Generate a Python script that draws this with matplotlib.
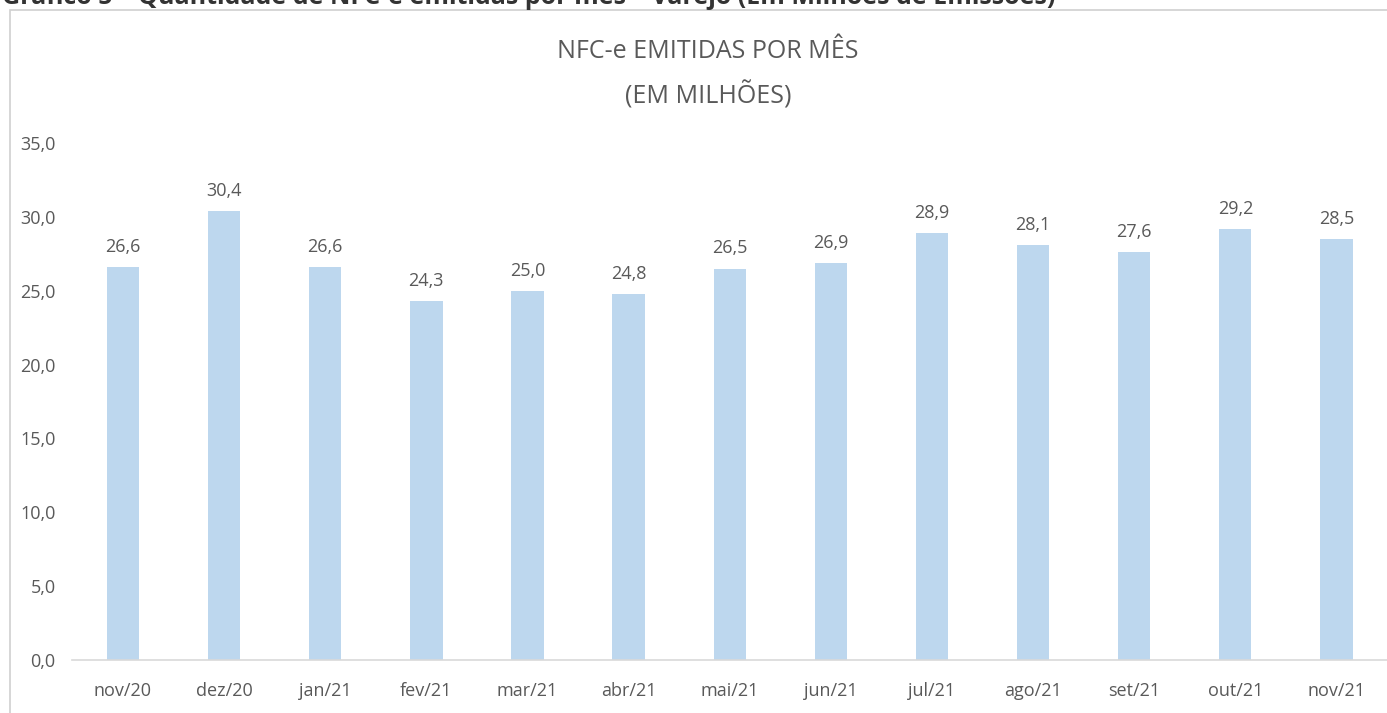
import matplotlib
matplotlib.use('Agg')
import matplotlib.pyplot as plt
import matplotlib.patches as mpatches
import numpy as np
from matplotlib.font_manager import fontManager

# Dados do gráfico
meses = ['nov/20', 'dez/20', 'jan/21', 'fev/21', 'mar/21', 'abr/21', 'mai/21',
         'jun/21', 'jul/21', 'ago/21', 'set/21', 'out/21', 'nov/21']
emissoes = [26.6, 30.4, 26.6, 24.3, 25.0, 24.8, 26.5, 26.9, 28.9, 28.1, 27.6, 29.2, 28.5]
yticks = [0, 5, 10, 15, 20, 25, 30, 35]

names = {f.name for f in fontManager.ttflist}
fam = 'Liberation Sans Narrow' if 'Liberation Sans Narrow' in names else 'Open Sans'
plt.rcParams['font.family'] = [fam, 'DejaVu Sans']

cinza = '#595959'
azul = '#BDD7EE'

fig = plt.figure(figsize=(13.87, 7.13), dpi=100)
ax = fig.add_axes([72.4 / 1387, 1 - 660 / 713, (1387 - 72.4) / 1387, (660 - 143) / 713])

x = np.arange(len(meses))
bars = ax.bar(x, emissoes, width=0.32, color=azul, zorder=2)

for xi, v in zip(x, emissoes):
    ax.annotate(f'{v:.1f}'.replace('.', ','), xy=(xi, v), xytext=(0, 8),
                textcoords='offset points', ha='center', va='bottom',
                fontsize=13, color=cinza)

ax.set_xlim(-0.5, len(meses) - 0.5)
ax.set_ylim(0, 35)
ax.set_yticks(yticks)
ax.set_yticklabels([f'{t:.1f}'.replace('.', ',') for t in yticks])
ax.set_xticks(x)
ax.set_xticklabels(meses)
ax.tick_params(axis='both', length=0, labelsize=13, colors=cinza)
ax.tick_params(axis='x', pad=16)
ax.tick_params(axis='y', pad=12)
for s in ['top', 'right', 'left']:
    ax.spines[s].set_visible(False)
ax.spines['bottom'].set_color('#D9D9D9')
ax.spines['bottom'].set_linewidth(1.2)

# Título do gráfico
fig.text(708 / 1387, 1 - 52 / 713, 'NFC-e EMITIDAS POR MÊS', ha='center', va='center',
         fontsize=18, color=cinza)
fig.text(708 / 1387, 1 - 95 / 713, '(EM MILHÕES)', ha='center', va='center',
         fontsize=18, color=cinza)

# Moldura do gráfico
frame = mpatches.Rectangle((10 / 1387, -0.02), 1.1, 1 - 10 / 713 + 0.02,
                           transform=fig.transFigure, fill=False,
                           edgecolor='#D0D0D0', linewidth=1.2)
fig.add_artist(frame)

# Legenda cortada no topo
fig.text(2 / 1387, 1.004, 'Gráfico 5 – Quantidade de NFC-e emitidas por mês – Varejo (Em Milhões de Emissões)',
         ha='left', va='center', fontsize=18, fontweight='bold', color='#333333')

fig.savefig('out.png', dpi=100)
